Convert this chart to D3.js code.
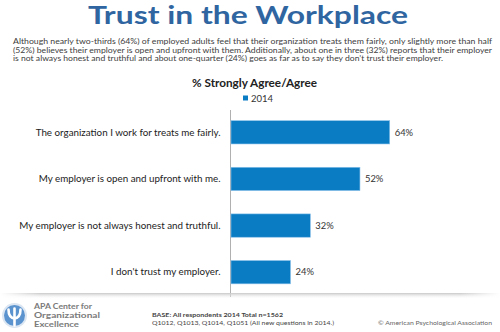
<html>

<head>
  <script src="https://d3js.org/d3.v7.min.js"></script>
  <style>
    body {
      margin: 0;
      background: #fff;
    }

    text {
      font-family: Lato, "Open Sans", sans-serif;
    }
  </style>
</head>

<body>
  <svg width="500" height="332" id="chart"></svg>
  <script>
    const categories = [
      "The organization I work for treats me fairly.",
      "My employer is open and upfront with me.",
      "My employer is not always honest and truthful.",
      "I don't trust my employer."
    ];
    const values2014 = [64, 52, 32, 24];
    const seriesName = "2014";
    const introLines = [
      "Although nearly two-thirds (64%) of employed adults feel that their organization treats them fairly, only slightly more than half",
      "(52%) believes their employer is open and upfront with them. Additionally, about one in three (32%) reports that their employer",
      "is not always honest and truthful and about one-quarter (24%) goes as far as to say they don\u2019t trust their employer."
    ];

    const svg = d3.select("#chart");
    const defs = svg.append("defs");

    // Title and intro text
    svg.append("text")
      .attr("x", 88).attr("y", 24)
      .attr("font-size", 24).attr("font-weight", "bold")
      .attr("fill", "#2f65a0")
      .attr("textLength", 320).attr("lengthAdjust", "spacingAndGlyphs")
      .text("Trust in the Workplace");

    svg.selectAll("text.intro").data(introLines)
      .join("text").attr("class", "intro")
      .attr("x", 13).attr("y", (d, i) => 44.3 + i * 8.3)
      .attr("font-size", 7.3).attr("fill", "#404040")
      .attr("textLength", (d, i) => i == 2 ? 430 : 479)
      .attr("lengthAdjust", "spacingAndGlyphs")
      .text(d => d);

    svg.append("text")
      .attr("x", 192).attr("y", 86.5)
      .attr("font-size", 10.5).attr("font-weight", "bold")
      .attr("fill", "#222")
      .attr("textLength", 125).attr("lengthAdjust", "spacingAndGlyphs")
      .text("% Strongly Agree/Agree");

    // Legend
    svg.append("rect")
      .attr("x", 243).attr("y", 95.5).attr("width", 5).attr("height", 5)
      .attr("fill", "#0a7cc4");
    svg.append("text")
      .attr("x", 251).attr("y", 101.5)
      .attr("font-size", 9.5).attr("fill", "#333")
      .text(seriesName);

    // Bar chart
    const x0 = 231;
    const xScale = d3.scaleLinear().domain([0, 100]).range([x0, x0 + 248]);
    const yScale = d3.scaleBand().domain(categories).range([109, 295.5]).paddingInner(0.5).paddingOuter(0.25);

    svg.append("line")
      .attr("x1", x0 - 0.5).attr("x2", x0 - 0.5)
      .attr("y1", 110).attr("y2", 297)
      .attr("stroke", "#b0b0b0").attr("stroke-width", 1);

    const rows = svg.selectAll("g.row")
      .data(categories.map((c, i) => ({ cat: c, val: values2014[i] })))
      .join("g").attr("class", "row");

    rows.append("rect")
      .attr("x", x0)
      .attr("y", d => yScale(d.cat))
      .attr("width", d => xScale(d.val) - x0)
      .attr("height", yScale.bandwidth())
      .attr("fill", "#0a7cc4")
      .attr("stroke", "#8cc2ea").attr("stroke-width", 0.6);

    rows.append("text")
      .attr("x", 220.5)
      .attr("y", d => yScale(d.cat) + yScale.bandwidth() / 2 + 3.3)
      .attr("text-anchor", "end")
      .attr("font-size", 9.8).attr("fill", "#222")
      .text(d => d.cat);

    rows.append("text")
      .attr("x", d => xScale(d.val) + 5)
      .attr("y", d => yScale(d.cat) + yScale.bandwidth() / 2 + 3.3)
      .attr("font-size", 9.4).attr("fill", "#333")
      .text(d => d.val + "%");

    // Soft divider shadow under the chart
    const grad = defs.append("linearGradient").attr("id", "shadowV")
      .attr("x1", 0).attr("y1", 0).attr("x2", 0).attr("y2", 1);
    grad.append("stop").attr("offset", 0).attr("stop-color", "#c8c8c8").attr("stop-opacity", 1);
    grad.append("stop").attr("offset", 1).attr("stop-color", "#ffffff").attr("stop-opacity", 0);
    const fadeH = defs.append("linearGradient").attr("id", "fadeH");
    fadeH.append("stop").attr("offset", 0).attr("stop-color", "#fff").attr("stop-opacity", 0);
    fadeH.append("stop").attr("offset", 0.08).attr("stop-color", "#fff").attr("stop-opacity", 1);
    fadeH.append("stop").attr("offset", 0.92).attr("stop-color", "#fff").attr("stop-opacity", 1);
    fadeH.append("stop").attr("offset", 1).attr("stop-color", "#fff").attr("stop-opacity", 0);
    const mask = defs.append("mask").attr("id", "shadowMask");
    mask.append("rect").attr("x", 0).attr("y", 290).attr("width", 500).attr("height", 12).attr("fill", "url(#fadeH)");
    svg.append("rect")
      .attr("x", 0).attr("y", 293).attr("width", 500).attr("height", 6)
      .attr("fill", "url(#shadowV)")
      .attr("mask", "url(#shadowMask)");

    // Footer logo
    const logo = svg.append("g").attr("transform", "translate(14.5,315.5)");
    logo.append("circle").attr("r", 12.5).attr("fill", "#dbe6f2");
    logo.append("circle").attr("r", 10.5).attr("fill", "#5b93cf");
    logo.append("path")
      .attr("d", "M-6,-6 Q-6,2 0,3 Q6,2 6,-6 M0,-7 L0,10")
      .attr("fill", "none").attr("stroke", "#fff").attr("stroke-width", 2.6).attr("stroke-linecap", "round");

    svg.selectAll("text.apa").data(["APA Center for", "Organizational", "Excellence"])
      .join("text").attr("class", "apa")
      .attr("x", 34).attr("y", (d, i) => 308.6 + i * 9.1)
      .attr("font-size", 7.5).attr("font-weight", "bold").attr("fill", "#7a7a7a")
      .attr("textLength", (d, i) => [58, 66, 45][i]).attr("lengthAdjust", "spacingAndGlyphs")
      .text(d => d);

    svg.append("text")
      .attr("x", 152).attr("y", 317)
      .attr("font-size", 6.2).attr("font-weight", "bold").attr("fill", "#444")
      .attr("font-family", "'DejaVu Sans', Verdana, sans-serif")
      .attr("textLength", 131).attr("lengthAdjust", "spacingAndGlyphs")
      .text("BASE: All respondents 2014 Total n=1562");
    svg.append("text")
      .attr("x", 152).attr("y", 325)
      .attr("font-size", 6.2).attr("fill", "#444")
      .attr("font-family", "'DejaVu Sans', Verdana, sans-serif")
      .attr("textLength", 182).attr("lengthAdjust", "spacingAndGlyphs")
      .text("Q1012, Q1013, Q1014, Q1051 (All new questions in 2014.)");

    svg.append("text")
      .attr("x", 378).attr("y", 325)
      .attr("font-size", 5.4).attr("fill", "#666")
      .attr("font-family", "'Liberation Sans', Arial, sans-serif")
      .attr("textLength", 114).attr("lengthAdjust", "spacingAndGlyphs")
      .text("\u00a9 American Psychological Association");
  </script>
</body>

</html>
